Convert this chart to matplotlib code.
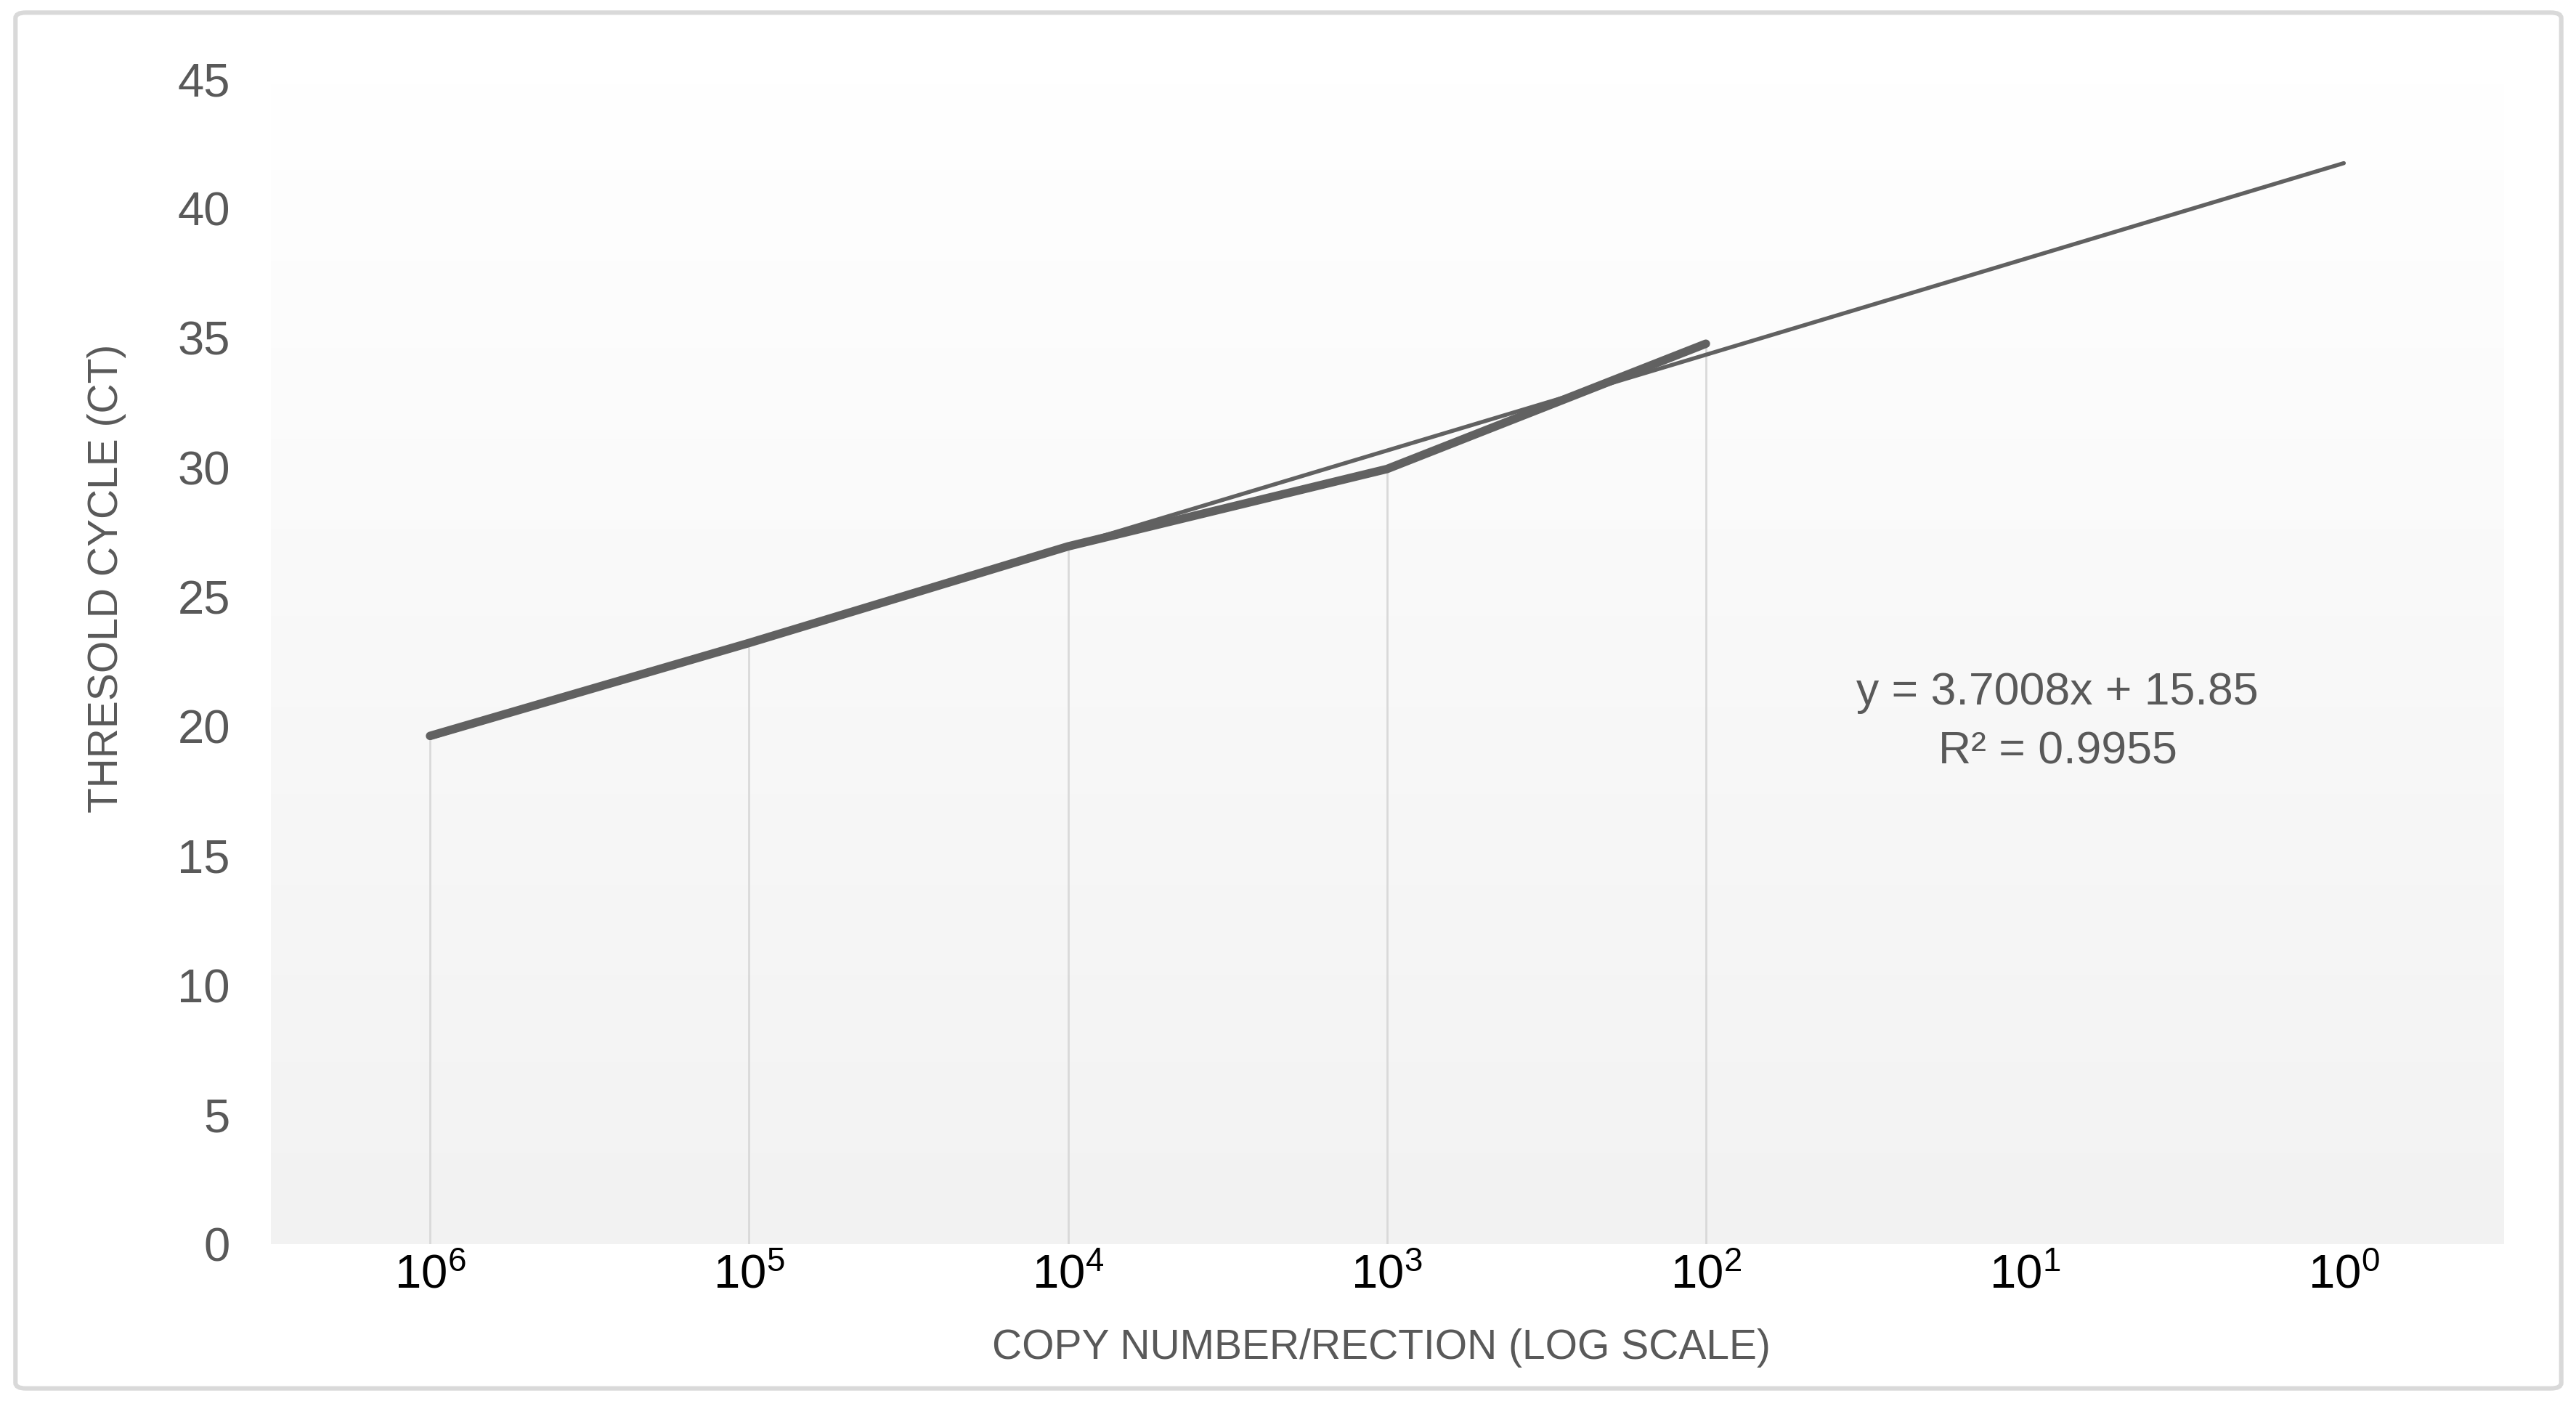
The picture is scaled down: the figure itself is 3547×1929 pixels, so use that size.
import numpy as np
import matplotlib
matplotlib.use('Agg')
import matplotlib.pyplot as plt
from matplotlib.colors import LinearSegmentedColormap
from matplotlib.patches import FancyBboxPatch

# date
copy_labels = ['$10^{6}$', '$10^{5}$', '$10^{4}$', '$10^{3}$', '$10^{2}$', '$10^{1}$', '$10^{0}$']
ct_values = [19.63, 23.22, 26.95, 29.94, 34.78]
y_ticks = [0, 5, 10, 15, 20, 25, 30, 35, 40, 45]

# linia de tendinta (ecuatia afisata pe grafic)
trend_slope = 3.7008
trend_intercept = 15.85
trend_text = 'y = 3.7008x + 15.85\nR\u00b2 = 0.9955'

plt.rcParams['font.family'] = ['Liberation Sans', 'DejaVu Sans']
plt.rcParams['mathtext.fontset'] = 'custom'
plt.rcParams['mathtext.rm'] = 'Liberation Sans'
plt.rcParams['mathtext.it'] = 'Liberation Sans'

GRAY_TEXT = '#595959'
LINE = '#616161'

fig = plt.figure(figsize=(17.74, 9.645), dpi=200)
ax = fig.add_axes([0.105, 0.112, 0.9715 - 0.105, 0.9435 - 0.112])

# chenarul graficului
border = FancyBboxPatch((0.006, 0.009), 0.988, 0.982, boxstyle='round,pad=0,rounding_size=0.004',
                        transform=fig.transFigure, facecolor='white', edgecolor='#d9d9d9',
                        linewidth=2.2, zorder=-10)
fig.patches.append(border)
fig.patch.set_alpha(0)

n = len(copy_labels)
x_all = np.arange(1, n + 1)
x_data = x_all[:len(ct_values)]

# fundal cu gradient (alb sus, gri jos)
cmap = LinearSegmentedColormap.from_list('grad', ['#ffffff', '#f2f2f2'])
gradient = np.linspace(0, 1, 256)[:, None]
ax.imshow(gradient, extent=[0.5, n + 0.5, 0, 45], aspect='auto', cmap=cmap, zorder=0)

# drop lines
ax.vlines(x_data, 0, ct_values, color='#d9d9d9', linewidth=1.0, zorder=1)

# seria de date
ax.plot(x_data, ct_values, color=LINE, linewidth=4.2, solid_capstyle='round',
        solid_joinstyle='round', zorder=3)

# linia de tendinta, extinsa pana la 10^0
trend_x = np.array([x_all[0], x_all[-1]])
ax.plot(trend_x, trend_slope * trend_x + trend_intercept, color=LINE, linewidth=2.0,
        solid_capstyle='round', zorder=4)

ax.set_xlim(0.5, n + 0.5)
ax.set_ylim(0, 45)
ax.set_xticks(x_all)
ax.set_xticklabels(copy_labels, fontsize=23.5, color='black')
ax.set_yticks(y_ticks)
ax.set_yticklabels([str(v) for v in y_ticks], fontsize=23.5, color=GRAY_TEXT)
ax.tick_params(axis='both', length=0)
ax.tick_params(axis='y', pad=20)
ax.tick_params(axis='x', pad=5)
for s in ax.spines.values():
    s.set_visible(False)

fig.text(0.0415, 0.587, 'THRESOLD CYCLE (CT)', rotation=90, ha='center', va='center',
         fontsize=20.5, color=GRAY_TEXT)
fig.text(0.536, 0.038, 'COPY NUMBER/RECTION (LOG SCALE)', ha='center', va='center',
         fontsize=20.5, color=GRAY_TEXT)
fig.text(0.7985, 0.4847, trend_text, ha='center', va='center', fontsize=22.5,
         color=GRAY_TEXT, linespacing=1.5)

fig.savefig('out.png', dpi=200)
